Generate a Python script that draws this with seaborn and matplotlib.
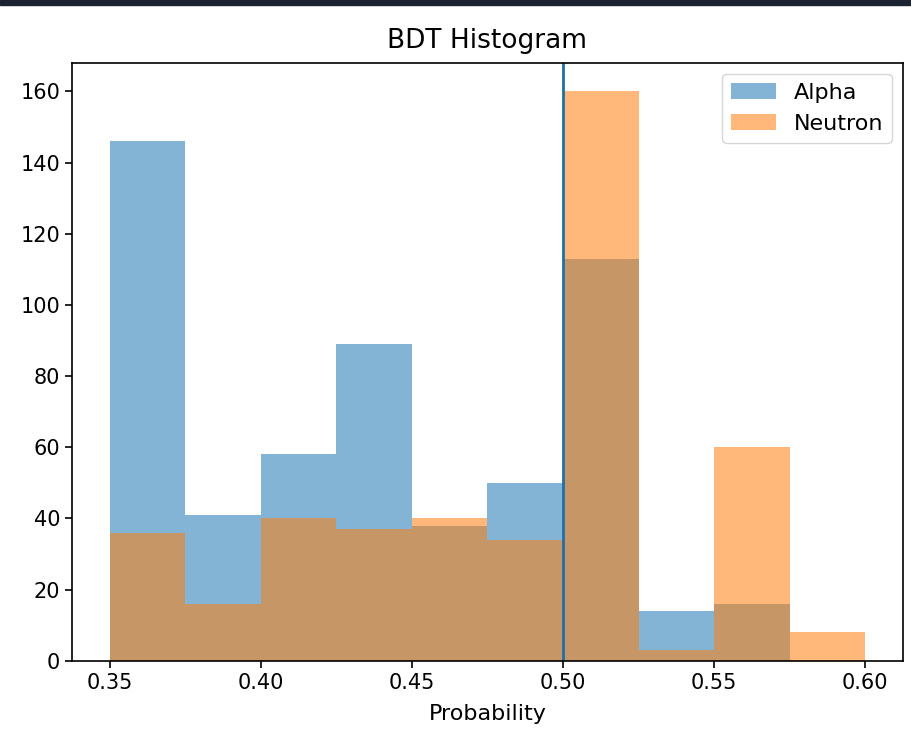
import numpy as np
import matplotlib
matplotlib.use("Agg")
import matplotlib.pyplot as plt
import seaborn as sns

# bin edges and counts
bin_edges = [0.35, 0.375, 0.40, 0.425, 0.45, 0.475, 0.50, 0.525, 0.55, 0.575, 0.60]
bin_left = bin_edges[:-1]
alpha_counts = [146, 41, 58, 89, 38, 50, 113, 14, 16, 0]
neutron_counts = [36, 16, 40, 37, 40, 34, 160, 3, 60, 8]
cut_value = 0.5

sns.set_style("white")
plt.rcParams["font.family"] = ["DejaVu Sans"]
plt.rcParams["text.color"] = "black"
plt.rcParams["xtick.color"] = "black"
plt.rcParams["ytick.color"] = "black"
plt.rcParams["axes.labelcolor"] = "black"

fig, ax = plt.subplots(figsize=(9.12, 7.31), dpi=100)
fig.subplots_adjust(left=0.079, right=0.990, top=0.914, bottom=0.096)

sns.histplot(x=bin_left, weights=alpha_counts, bins=bin_edges, color="#1f77b4",
             alpha=0.55, linewidth=0, label="Alpha", ax=ax)
sns.histplot(x=bin_left, weights=neutron_counts, bins=bin_edges, color="#ff7f0e",
             alpha=0.55, linewidth=0, label="Neutron", ax=ax)
ax.axvline(cut_value, color="#1f6fa8", linewidth=2)

ax.set_xlim(0.3375, 0.6125)
ax.set_ylim(0, 168)
ax.set_xticks([0.35, 0.40, 0.45, 0.50, 0.55, 0.60])
ax.set_xticklabels(["0.35", "0.40", "0.45", "0.50", "0.55", "0.60"])
ax.set_yticks(range(0, 161, 20))
ax.tick_params(axis="both", labelsize=15, direction="out", length=5, width=1.2,
               bottom=True, left=True, colors="black")
for s in ax.spines.values():
    s.set_color("black")
    s.set_linewidth(1.2)

ax.set_title("BDT Histogram", fontsize=19, pad=11, color="black")
ax.set_xlabel("Probability", fontsize=16, labelpad=8, color="black")
ax.set_ylabel("")
ax.legend(loc="upper right", fontsize=16, labelcolor="black")

# dark strip at the top of the screenshot
fig.patches.append(plt.Rectangle((0, 0.993), 1, 0.007, transform=fig.transFigure,
                                 color="#1b2230", zorder=10))

fig.savefig("out.png", dpi=100)
